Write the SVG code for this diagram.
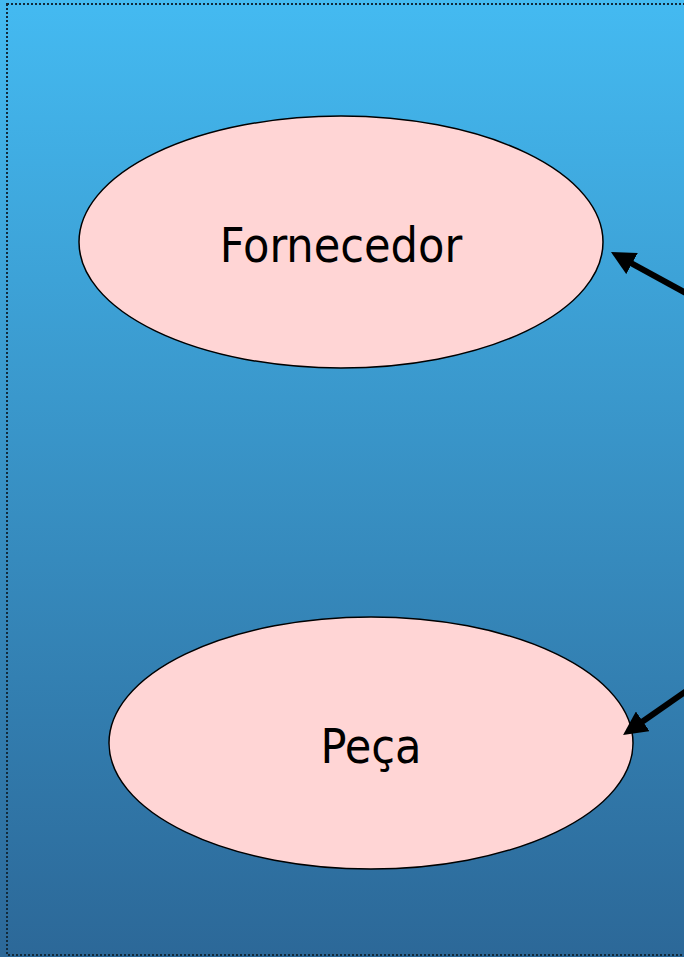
<svg xmlns="http://www.w3.org/2000/svg" width="684" height="957" viewBox="0 0 684 957">
  <defs>
    <linearGradient id="bg" x1="0" y1="0" x2="0" y2="1">
      <stop offset="0" stop-color="#44baf1"/>
      <stop offset="1" stop-color="#2c6898"/>
    </linearGradient>
    <marker id="head" viewBox="0 0 24 24" refX="12" refY="12" markerWidth="24" markerHeight="24" markerUnits="userSpaceOnUse" orient="auto">
      <path d="M0,0 L24,12 L0,24 z" fill="#000"/>
    </marker>
  </defs>
  <style>
    .entity ellipse { fill: #ffd5d5; stroke: #000; stroke-width: 1.5; }
    .entity text { font-family: "DejaVu Sans Condensed", "DejaVu Sans", sans-serif; font-stretch: condensed; font-size: 48px; fill: #000; text-anchor: middle; }
    .link { stroke: #000; stroke-width: 6; fill: none; marker-end: url(#head); }
  </style>

  <!-- background panel -->
  <rect x="0" y="0" width="684" height="957" fill="url(#bg)"/>
  <rect x="7" y="4" width="700" height="951" fill="none" stroke="#122a3a" stroke-width="2" stroke-dasharray="2 2"/>

  <g id="fornecedor" class="entity">
    <ellipse cx="341" cy="242" rx="262" ry="126"/>
    <text x="341" y="262">Fornecedor</text>
  </g>

  <g id="peca" class="entity">
    <ellipse cx="371" cy="743" rx="262" ry="126"/>
    <text x="371" y="763">Peça</text>
  </g>

  <g id="connectors">
    <line class="link" x1="692" y1="296.4" x2="621.5" y2="257.8"/>
    <line class="link" x1="692" y1="687.1" x2="632.9" y2="728.2"/>
  </g>
</svg>
